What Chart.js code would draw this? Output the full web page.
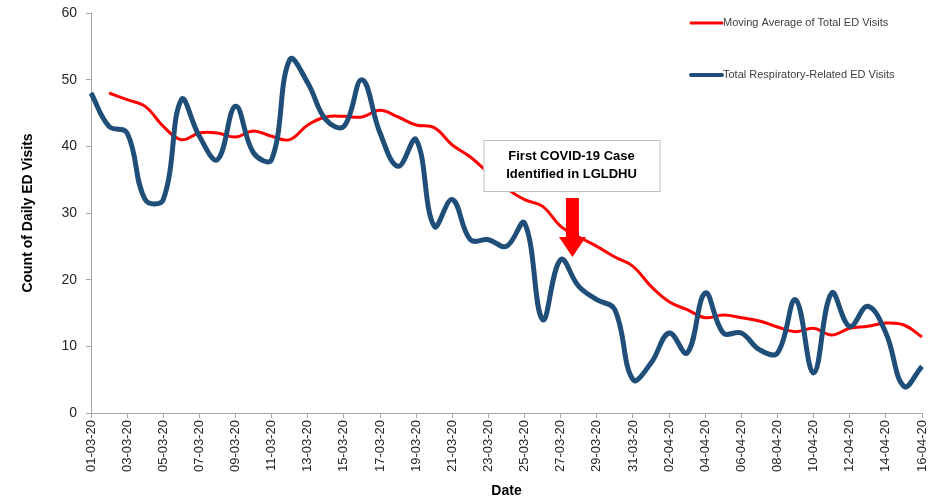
<!DOCTYPE html>
<html>
<head>
<meta charset="utf-8">
<script src="https://cdn.jsdelivr.net/npm/chart.js@4.4.1/dist/chart.umd.min.js"></script>
<style>
  html, body { margin: 0; padding: 0; background: #fff; }
  #wrap { width: 943px; height: 500px; position: relative; }
</style>
</head>
<body>
<div id="wrap"><canvas id="chart"></canvas></div>
<script>
// ─── Data ────────────────────────────────────────────────────────────────

const DATES = [
  '01-03-20','02-03-20','03-03-20','04-03-20','05-03-20','06-03-20','07-03-20','08-03-20',
  '09-03-20','10-03-20','11-03-20','12-03-20','13-03-20','14-03-20','15-03-20','16-03-20',
  '17-03-20','18-03-20','19-03-20','20-03-20','21-03-20','22-03-20','23-03-20','24-03-20',
  '25-03-20','26-03-20','27-03-20','28-03-20','29-03-20','30-03-20','31-03-20','01-04-20',
  '02-04-20','03-04-20','04-04-20','05-04-20','06-04-20','07-04-20','08-04-20','09-04-20',
  '10-04-20','11-04-20','12-04-20','13-04-20','14-04-20','15-04-20','16-04-20',
];

const MOVING_AVG = [
  null, 48, 47, 46, 43, 41, 42, 42, 41.4, 42.3, 41.5,
  41, 43.2, 44.4, 44.5, 44.4, 45.4, 44.4, 43.2, 42.8, 40.2,
  38.4, 36, 33.7, 32, 31, 28, 26.4, 25, 23.4, 22,
  19, 16.7, 15.5, 14.3, 14.7, 14.3, 13.8, 12.9, 12.2, 12.7,
  11.7, 12.7, 13, 13.5, 13.2, 11.4,
];

const RESP_VISITS = [
  48, 43, 42, 32, 32, 47, 41.5, 38, 46, 39, 38,
  53, 49.5, 44, 43, 50, 42, 37, 41, 28, 32,
  26, 26, 25, 28.5, 14, 23, 19, 17, 15.5, 5,
  7.5, 12, 9, 18, 12, 12, 9.5, 9, 17, 6,
  18, 13, 16, 12, 4, 7,
];

const ANNOTATION_LINES = ['First COVID-19 Case', 'Identified in LGLDHU'];

// ─── Styles ──────────────────────────────────────────────────────────────

const RED = '#ff0000';
const NAVY = '#1f4e79';
const AXIS = '#a6a6a6';
const TEXT = '#262626';
const FONT = "'Liberation Sans', Arial, sans-serif";

Chart.defaults.font.family = FONT;
Chart.defaults.color = TEXT;

// legend + annotation box / arrow, drawn on top of the lines
const overlay = {
  id: 'overlay',
  afterDatasetsDraw(chart) {
    const { ctx, scales: { x, y } } = chart;
    ctx.save();

    // legend (top right, stacked with a wide gap)
    const rows = [{ ds: chart.data.datasets[0], y: 23, w: 3 }, { ds: chart.data.datasets[1], y: 75, w: 4 }];
    ctx.font = `11px ${FONT}`;
    ctx.textBaseline = 'middle';
    ctx.textAlign = 'left';
    rows.forEach(r => {
      ctx.strokeStyle = r.ds.borderColor;
      ctx.lineWidth = r.w;
      ctx.lineCap = 'round';
      ctx.beginPath();
      ctx.moveTo(691, r.y);
      ctx.lineTo(722, r.y);
      ctx.stroke();
      ctx.fillStyle = '#404040';
      ctx.fillText(r.ds.label, 723, r.y);
    });

    // annotation box
    const cx = x.getPixelForValue(26.6);
    const top = y.getPixelForValue(40.95);
    const bot = y.getPixelForValue(33.3);
    const bw = 176;
    ctx.fillStyle = '#ffffff';
    ctx.fillRect(cx - bw / 2, top, bw, bot - top);
    ctx.strokeStyle = '#bfbfbf';
    ctx.lineWidth = 1;
    ctx.strokeRect(cx - bw / 2 + 0.5, top + 0.5, bw, bot - top);
    ctx.fillStyle = '#000';
    ctx.font = `bold 13px ${FONT}`;
    ctx.textAlign = 'center';
    const mid = (top + bot) / 2;
    ctx.fillText(ANNOTATION_LINES[0], cx, mid - 9);
    ctx.fillText(ANNOTATION_LINES[1], cx, mid + 9);

    // red arrow down
    const ax = x.getPixelForValue(26.65);
    const aTop = y.getPixelForValue(32.25);
    const aTip = y.getPixelForValue(23.4);
    const headH = 20;
    ctx.fillStyle = RED;
    ctx.beginPath();
    ctx.moveTo(ax - 6.5, aTop);
    ctx.lineTo(ax + 6.5, aTop);
    ctx.lineTo(ax + 6.5, aTip - headH);
    ctx.lineTo(ax + 13.5, aTip - headH);
    ctx.lineTo(ax, aTip);
    ctx.lineTo(ax - 13.5, aTip - headH);
    ctx.lineTo(ax - 6.5, aTip - headH);
    ctx.closePath();
    ctx.fill();

    ctx.restore();
  },
};

// ─── Chart ───────────────────────────────────────────────────────────────

new Chart(document.getElementById('chart'), {
  type: 'line',
  data: {
    labels: DATES,
    datasets: [
      {
        label: 'Moving Average of Total ED Visits',
        data: MOVING_AVG,
        borderColor: RED,
        borderWidth: 3,
        pointRadius: 0,
        tension: 0.4,
        fill: false,
        order: 2,
      },
      {
        label: 'Total Respiratory-Related ED Visits',
        data: RESP_VISITS,
        borderColor: NAVY,
        borderWidth: 5,
        pointRadius: 0,
        tension: 0.4,
        fill: false,
        order: 1,
      },
    ],
  },
  options: {
    responsive: true,
    maintainAspectRatio: false,
    animation: false,
    layout: { padding: { top: 13, right: 21, left: 0, bottom: 0 } },
    plugins: {
      legend: { display: false },
      tooltip: { enabled: false },
    },
    scales: {
      x: {
        offset: false,
        afterFit: s => { s.height = 87; s.paddingLeft = 0; s.paddingRight = 0; },
        border: { color: AXIS, width: 1 },
        grid: {
          drawOnChartArea: false,
          tickLength: 5,
          color: c => (c.index % 2 === 0 ? AXIS : 'transparent'),
        },
        ticks: {
          autoSkip: false,
          maxRotation: 90,
          minRotation: 90,
          padding: 2,
          font: { size: 13 },
          callback: (v, i) => (i % 2 === 0 ? DATES[i] : ''),
        },
        title: {
          display: true,
          text: 'Date',
          font: { size: 14, weight: 'bold' },
          color: '#000',
          padding: 0,
        },
      },
      y: {
        min: 0,
        max: 60,
        afterFit: s => { s.width = 91; s.paddingTop = 0; s.paddingBottom = 0; },
        border: { color: AXIS, width: 1 },
        grid: { drawOnChartArea: false, tickLength: 5, color: AXIS },
        ticks: { stepSize: 10, padding: 9, font: { size: 14 }, color: TEXT },
        title: {
          display: true,
          text: 'Count of Daily ED Visits',
          font: { size: 14, weight: 'bold' },
          color: '#000',
          padding: { top: 20, bottom: 0 },
        },
      },
    },
  },
  plugins: [overlay],
});
</script>
</body>
</html>
